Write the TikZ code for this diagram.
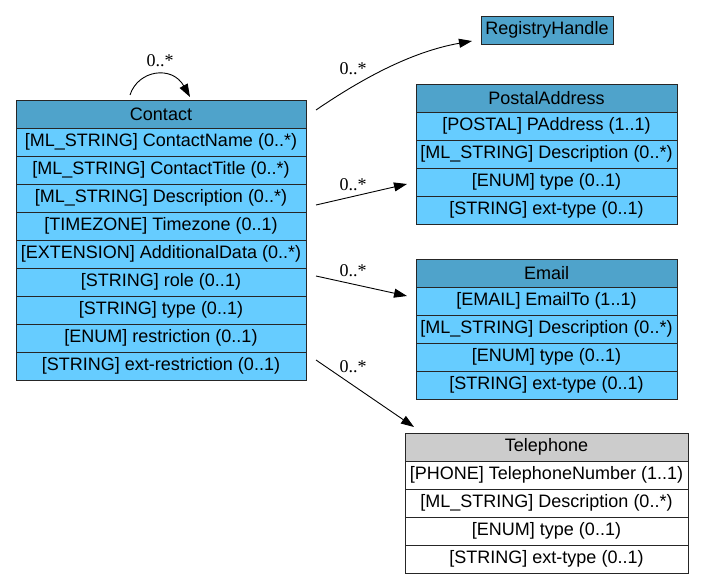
\documentclass[tikz,border=0pt]{standalone}
\usepackage{fontspec}
\setmainfont{Liberation Sans}
\newfontfamily\lblfont{Liberation Serif}
\usetikzlibrary{arrows.meta}
\definecolor{hdrblue}{HTML}{4FA3CB}
\definecolor{rowblue}{HTML}{66CCFF}
\definecolor{hdrgray}{HTML}{CCCCCC}
\begin{document}
\begin{tikzpicture}[x=1pt,y=-1pt,
  cell/.style={draw=black!85, line width=0.9pt, minimum height=28pt, inner sep=0pt, outer sep=0pt, anchor=north, font=\fontsize{18}{20}\selectfont},
  hdr/.style={cell, fill=hdrblue},
  row/.style={cell, fill=rowblue},
  ghdr/.style={cell, fill=hdrgray},
  wrow/.style={cell, fill=white},
  lbl/.style={font=\lblfont\fontsize{18}{20}\selectfont, inner sep=0pt},
  edge/.style={line width=0.9pt, -{Triangle[length=13pt,width=9pt]}}]
\useasboundingbox (0,0) rectangle (704,583);
% Contact
\node[hdr, minimum width=290pt, anchor=north west] (contact) at (16,100) {Contact};
\node[row, minimum width=290pt] (c1) at (contact.south) {[ML\_STRING] ContactName (0..*)};
\node[row, minimum width=290pt] (c2) at (c1.south) {[ML\_STRING] ContactTitle (0..*)};
\node[row, minimum width=290pt] (c3) at (c2.south) {[ML\_STRING] Description (0..*)};
\node[row, minimum width=290pt] (c4) at (c3.south) {[TIMEZONE] Timezone (0..1)};
\node[row, minimum width=290pt] (c5) at (c4.south) {[EXTENSION] AdditionalData (0..*)};
\node[row, minimum width=290pt] (c6) at (c5.south) {[STRING] role (0..1)};
\node[row, minimum width=290pt] (c7) at (c6.south) {[STRING] type (0..1)};
\node[row, minimum width=290pt] (c8) at (c7.south) {[ENUM] restriction (0..1)};
\node[row, minimum width=290pt] (c9) at (c8.south) {[STRING] ext-restriction (0..1)};
% RegistryHandle
\node[hdr, minimum width=132pt, anchor=north west] (reg) at (481,16) {RegistryHandle};
% PostalAddress
\node[hdr, minimum width=261pt, anchor=north west] (postal) at (416,84) {PostalAddress};
\node[row, minimum width=261pt] (p1) at (postal.south) {[POSTAL] PAddress (1..1)};
\node[row, minimum width=261pt] (p2) at (p1.south) {[ML\_STRING] Description (0..*)};
\node[row, minimum width=261pt] (p3) at (p2.south) {[ENUM] type (0..1)};
\node[row, minimum width=261pt] (p4) at (p3.south) {[STRING] ext-type (0..1)};
% Email
\node[hdr, minimum width=261pt, anchor=north west] (email) at (416,259) {Email};
\node[row, minimum width=261pt] (e1) at (email.south) {[EMAIL] EmailTo (1..1)};
\node[row, minimum width=261pt] (e2) at (e1.south) {[ML\_STRING] Description (0..*)};
\node[row, minimum width=261pt] (e3) at (e2.south) {[ENUM] type (0..1)};
\node[row, minimum width=261pt] (e4) at (e3.south) {[STRING] ext-type (0..1)};
% Telephone
\node[ghdr, minimum width=283pt, anchor=north west] (tel) at (405,433) {Telephone};
\node[wrow, minimum width=283pt] (t1) at (tel.south) {[PHONE] TelephoneNumber (1..1)};
\node[wrow, minimum width=283pt] (t2) at (t1.south) {[ML\_STRING] Description (0..*)};
\node[wrow, minimum width=283pt] (t3) at (t2.south) {[ENUM] type (0..1)};
\node[wrow, minimum width=283pt] (t4) at (t3.south) {[STRING] ext-type (0..1)};
% edges
\draw[edge] ([shift={(-31,-5)}]contact.north) .. controls (138,70) and (172,65) .. ([shift={(29,-3)}]contact.north);
\node[lbl] (l0) at (160,61) {0..*};
\draw[edge] ([shift={(10,-4)}]contact.east) .. controls (360,80) and (410,52) .. ([shift={(-9,-3)}]reg.south west);
\node[lbl] (l1) at (353,69) {0..*};
\draw[edge] ([shift={(10,7)}]c3.east) -- ([shift={(-9,2)}]p3.west);
\node[lbl] (l2) at (353,185) {0..*};
\draw[edge] ([shift={(10,-6)}]c6.east) -- ([shift={(-9,-5)}]e1.west);
\node[lbl] (l3) at (353,271) {0..*};
\draw[edge] ([shift={(10,-6)}]c9.east) -- ([shift={(9,-6)}]tel.north west);
\node[lbl] (l4) at (353,367) {0..*};
\end{tikzpicture}
\end{document}
